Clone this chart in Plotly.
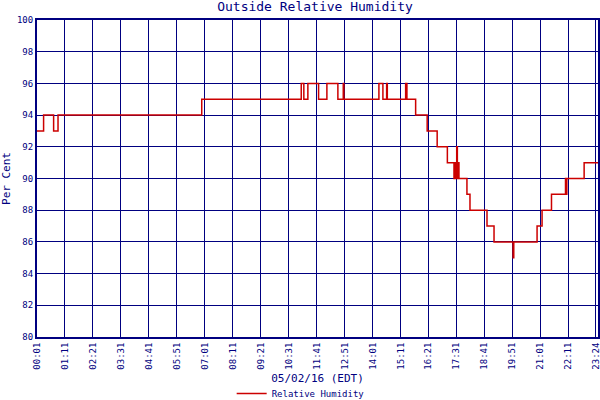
import plotly.graph_objs as go

# minutes since midnight where the reading changes, and the reading from then on
change_minutes = [1, 17.5, 42.6, 53.6, 413.3,
                  662.3, 668.8, 678.9, 705.7, 726.5, 754, 767.5, 769,
                  856.7, 866.7, 876, 877.7, 923.6, 926.8,
                  948.6, 977.5, 1002.5, 1028, 1044.6, 1047.5, 1049, 1051.4, 1053,
                  1055.5, 1057, 1077, 1084.6, 1127.2, 1144.8, 1192.4, 1194.2,
                  1252.5, 1265, 1288.6, 1323.7, 1324.5, 1325.3, 1326.1, 1327,
                  1330, 1370.3, 1405]
humidity = [93, 94, 93, 94, 95,
            96, 95, 96, 95, 96, 95, 96, 95,
            96, 95, 96, 95, 96, 95,
            94, 93, 92, 91, 90, 91, 90, 92, 90,
            91, 90, 89, 88, 87, 86, 85, 86,
            87, 88, 89, 90, 89, 90, 89, 90,
            90, 91, 91]

tick_minutes = [1, 71, 141, 211, 281, 351, 421, 491, 561, 631, 701, 771,
                841, 911, 981, 1051, 1121, 1191, 1261, 1331, 1399]
tick_labels = ["00:01", "01:11", "02:21", "03:31", "04:41", "05:51", "07:01",
               "08:11", "09:21", "10:31", "11:41", "12:51", "14:01", "15:11",
               "16:21", "17:31", "18:41", "19:51", "21:01", "22:11", "23:24"]

NAVY = "#000080"
RED = "#cc0000"
FONT = "DejaVu Sans Mono"

fig = go.Figure(go.Scatter(x=change_minutes, y=humidity, mode="lines",
                           line=dict(color=RED, width=1.5, shape="hv"),
                           name="Relative Humidity"))

fig.update_layout(
    width=600, height=400,
    margin=dict(l=37, r=2, t=20, b=63, autoexpand=False),
    paper_bgcolor="white", plot_bgcolor="white",
    font=dict(family=FONT, color=NAVY, size=9),
    title=dict(text="Outside Relative Humidity", x=0.525, xanchor="center",
               y=0.995, yanchor="top", font=dict(size=13, color=NAVY, family=FONT)),
    showlegend=True,
    legend=dict(orientation="h", x=0.47, xanchor="center", y=-0.178, yanchor="middle",
                font=dict(size=9, color=NAVY, family=FONT), itemwidth=30),
)
fig.update_xaxes(range=[1, 1405], tickmode="array", tickvals=tick_minutes,
                 ticktext=tick_labels, tickangle=-90, tickfont=dict(size=9),
                 ticklabeloverflow="allow",
                 showgrid=True, gridcolor=NAVY, gridwidth=1.2,
                 showline=True, linecolor=NAVY, linewidth=2, mirror=True,
                 zeroline=False, ticks="", automargin=False,
                 title=dict(text="05/02/16 (EDT)", font=dict(size=11), standoff=6))
fig.update_yaxes(range=[80, 100], dtick=2, tick0=80, tickfont=dict(size=9),
                 showgrid=True, gridcolor=NAVY, gridwidth=1.2,
                 showline=True, linecolor=NAVY, linewidth=2, mirror=True,
                 zeroline=False, ticks="", automargin=False,
                 title=dict(text="Per Cent", font=dict(size=11), standoff=6))

# drop the page's default body margin so the 600x400 figure fills the window
fig.write_html("out.html", config={"displayModeBar": False},
               post_script="document.body.style.margin='0';document.body.style.overflow='hidden';")
